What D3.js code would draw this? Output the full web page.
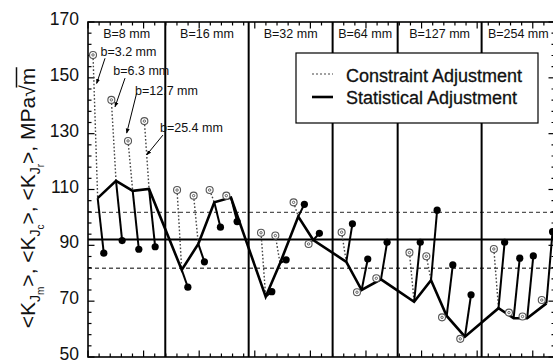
<!DOCTYPE html>
<html><head><meta charset="utf-8">
<script src="https://cdn.jsdelivr.net/npm/d3@7"></script>
<style>
html,body{margin:0;padding:0;background:#fff;}
svg{display:block;font-family:"Liberation Sans",Arial,Helvetica,sans-serif;}
</style></head><body>
<svg id="chart" width="553" height="361"></svg>
<script>
// Specimen thickness panels and their edges on the position axis
const panelLabels = ["B=8 mm", "B=16 mm", "B=32 mm", "B=64 mm", "B=127 mm", "B=254 mm"];
const panelEdges = [0, 6.95, 14.45, 22.0, 27.85, 35.4, 42];

// Ligament sizes called out in the first panel
const ligamentLabels = ["b=3.2 mm", "b=6.3 mm", "b=12.7 mm", "b=25.4 mm"];
const ligamentLabelPos = [[1.12, 157.8], [2.28, 151.0], [4.23, 143.9], [6.47, 130.7]];
const ligamentArrows = [
  [[1.53, 157.0], [0.78, 148.0]],
  [[3.33, 149.9], [2.43, 139.6]],
  [[4.38, 144.6], [3.48, 130.2]],
  [[6.74, 129.5], [5.28, 122.4]]
];

// Position of each (B, b) group along the axis
const groupX = [0.87, 2.52, 4.02, 5.49,
                8.43, 9.92, 11.36, 12.86,
                15.98, 17.27, 18.91, 20.26,
                23.23, 24.61, 26.35,
                29.33, 30.85, 32.26, 33.9,
                36.92, 38.28, 39.5, 41.23];

// <K_Jm>: measured mean toughness, MPa√m
const kJm = [106.9, 113.1, 109.5, 110.2,
             81.2, 90.5, 105.4, 107.1,
             71.6, 83.6, 100.3, 91.9,
             84.1, 74.0, 77.8,
             69.8, 77.5, 64.7, 57.3,
             67.5, 63.9, 63.9, 69.2];

// <K_Jc>: constraint adjustment
const kJc = [158.2, 142.1, 127.4, 134.5,
             109.8, 107.8, 109.8, 107.8,
             94.5, 93.5, 105.4, 90.5,
             94.7, 73.2, 78.2,
             87.4, 86.1, 64.2, 56.5,
             88.7, 65.9, 64.5, 70.4];

// <K_Jr>: statistical adjustment
const kJr = [87.2, 91.7, 88.6, 89.5,
             75.0, 84.1, 96.5, 98.5,
             73.4, 84.8, 104.7, 94.3,
             97.7, 85.1, 91.1,
             91.1, 102.6, 83.0, 72.3,
             91.1, 85.4, 86.2, 94.9];

// Overall mean and scatter band
const meanLevel = 92.1;
const bandLevels = [101.8, 81.8];

const yTickLabels = [50, 70, 90, 110, 130, 150, 170];
const legendItems = ["Constraint Adjustment", "Statistical Adjustment"];

// small horizontal shift that separates the three markers of a group
const offC = -0.42, offR = 0.55;

const svg = d3.select("#chart");
const x = d3.scaleLinear().domain([0, 42]).range([88, 555]);
const y = d3.scaleLinear().domain([50, 170]).range([357, 22]);
const [x0, x1] = x.range();
const [yb, yt] = y.range();

// scatter band and mean
bandLevels.forEach(v => {
  svg.append("line").attr("x1", x0).attr("x2", x1).attr("y1", y(v)).attr("y2", y(v))
    .attr("stroke", "#555").attr("stroke-width", 1.3).attr("stroke-dasharray", "4,3");
});
svg.append("line").attr("x1", x0).attr("x2", x1).attr("y1", y(meanLevel)).attr("y2", y(meanLevel))
  .attr("stroke", "#000").attr("stroke-width", 2);

// panel dividers
svg.selectAll("line.divider").data(panelEdges.slice(1, -1)).join("line")
  .attr("class", "divider")
  .attr("x1", d => x(d)).attr("x2", d => x(d)).attr("y1", yt).attr("y2", yb)
  .attr("stroke", "#000").attr("stroke-width", 2);

// frame ticks (inward) on all four sides
const xt = d3.range(0, 43);
const yTicksAll = d3.range(50, 171, 4);
const tickG = svg.append("g").attr("stroke", "#000").attr("stroke-width", 1.2);
xt.forEach(t => {
  const len = t % 5 === 0 ? 6.5 : 3.5;
  tickG.append("line").attr("x1", x(t)).attr("x2", x(t)).attr("y1", yt).attr("y2", yt + len);
  tickG.append("line").attr("x1", x(t)).attr("x2", x(t)).attr("y1", yb).attr("y2", yb - len);
});
yTicksAll.forEach(t => {
  const len = (t - 50) % 20 === 0 ? 6.5 : 3.5;
  tickG.append("line").attr("x1", x0).attr("x2", x0 + len).attr("y1", y(t)).attr("y2", y(t));
  tickG.append("line").attr("x1", x1).attr("x2", x1 - len).attr("y1", y(t)).attr("y2", y(t));
});

// frame
svg.append("rect").attr("x", x0).attr("y", yt).attr("width", x1 - x0).attr("height", yb - yt)
  .attr("fill", "none").attr("stroke", "#000").attr("stroke-width", 1.6);

// y tick labels
svg.selectAll("text.ytl").data(yTickLabels).join("text")
  .attr("class", "ytl")
  .attr("x", 79).attr("y", d => y(d) + 3)
  .attr("text-anchor", "end").attr("font-size", 17.5).attr("fill", "#111")
  .text(d => d);

// panel titles
svg.selectAll("text.panel").data(panelLabels).join("text")
  .attr("class", "panel")
  .attr("x", (d, i) => (x(panelEdges[i]) + x(panelEdges[i + 1])) / 2)
  .attr("y", 37.5)
  .attr("text-anchor", "middle").attr("font-size", 12.5).attr("fill", "#111")
  .text(d => d);

const idx = d3.range(groupX.length);

// dotted links from constraint-adjusted value to measured mean
svg.selectAll("line.cLink").data(idx).join("line")
  .attr("class", "cLink")
  .attr("x1", i => x(groupX[i] + offC)).attr("y1", i => y(kJc[i]))
  .attr("x2", i => x(groupX[i])).attr("y2", i => y(kJm[i]))
  .attr("stroke", "#444").attr("stroke-width", 1.4).attr("stroke-dasharray", "1.6,2");

// solid links from measured mean to statistically adjusted value
svg.selectAll("line.rLink").data(idx).join("line")
  .attr("class", "rLink")
  .attr("x1", i => x(groupX[i])).attr("y1", i => y(kJm[i]))
  .attr("x2", i => x(groupX[i] + offR)).attr("y2", i => y(kJr[i]))
  .attr("stroke", "#000").attr("stroke-width", 2);

// measured mean trace
svg.append("path")
  .attr("d", d3.line().x(i => x(groupX[i])).y(i => y(kJm[i]))(idx))
  .attr("fill", "none").attr("stroke", "#000").attr("stroke-width", 2.6)
  .attr("stroke-linejoin", "miter");

// constraint-adjusted markers
const cG = svg.selectAll("g.cMark").data(idx).join("g")
  .attr("class", "cMark")
  .attr("transform", i => `translate(${x(groupX[i] + offC)},${y(kJc[i])})`);
cG.append("circle").attr("r", 3.5).attr("fill", "#fff").attr("stroke", "#555").attr("stroke-width", 1.1);
cG.append("circle").attr("r", 1.2).attr("fill", "none").attr("stroke", "#555").attr("stroke-width", 0.9);

// statistically adjusted markers
svg.selectAll("circle.rMark").data(idx).join("circle")
  .attr("class", "rMark")
  .attr("cx", i => x(groupX[i] + offR)).attr("cy", i => y(kJr[i]))
  .attr("r", 3.6).attr("fill", "#000");

// ligament callouts
const defs = svg.append("defs");
defs.append("marker").attr("id", "arr").attr("viewBox", "0 0 10 10")
  .attr("refX", 9).attr("refY", 5).attr("markerWidth", 5).attr("markerHeight", 5)
  .attr("orient", "auto").append("path").attr("d", "M0,1 L10,5 L0,9 Z").attr("fill", "#000");
ligamentArrows.forEach(a => {
  svg.append("line").attr("x1", x(a[0][0])).attr("y1", y(a[0][1]))
    .attr("x2", x(a[1][0])).attr("y2", y(a[1][1]))
    .attr("stroke", "#000").attr("stroke-width", 1).attr("marker-end", "url(#arr)");
});
svg.selectAll("text.lig").data(ligamentLabels).join("text")
  .attr("class", "lig")
  .attr("x", (d, i) => x(ligamentLabelPos[i][0])).attr("y", (d, i) => y(ligamentLabelPos[i][1]))
  .attr("font-size", 12.5).attr("fill", "#111")
  .text(d => d);

// legend
const lg = svg.append("g");
lg.append("rect").attr("x", 296).attr("y", 53).attr("width", 242).attr("height", 70)
  .attr("fill", "#fff").attr("stroke", "#000").attr("stroke-width", 1.2);
lg.append("line").attr("x1", 312).attr("x2", 333).attr("y1", 74).attr("y2", 74)
  .attr("stroke", "#444").attr("stroke-width", 1.2).attr("stroke-dasharray", "2,2");
lg.append("line").attr("x1", 312).attr("x2", 333).attr("y1", 97).attr("y2", 97)
  .attr("stroke", "#000").attr("stroke-width", 2.6);
lg.selectAll("text").data(legendItems).join("text")
  .attr("x", 346).attr("y", (d, i) => 82 + i * 22)
  .attr("font-size", 18).attr("fill", "#111").attr("stroke", "#111").attr("stroke-width", 0.3)
  .text(d => d);

// y axis title: <K_Jm>, <K_Jc>, <K_Jr>, MPa√m
const titleG = svg.append("g").attr("transform", "translate(35,198) rotate(-90)");
const yTitle = titleG.append("text")
  .attr("text-anchor", "middle").attr("font-size", 21).attr("fill", "#111");
const parts = [
  ["<K", 0, 21], ["J", 5, 14], ["m", 4, 10], [">, <K", -9, 21],
  ["J", 5, 14], ["c", 4, 10], [">, <K", -9, 21],
  ["J", 5, 14], ["r", 4, 10], [">, MPa\u221Am", -9, 21]
];
parts.forEach(p => {
  yTitle.append("tspan").attr("dy", p[1]).attr("font-size", p[2]).text(p[0]);
});
// radical bar over the final "m"
const nChars = yTitle.node().getNumberOfChars();
const rad = yTitle.node().getExtentOfChar(nChars - 2);
const lastM = yTitle.node().getExtentOfChar(nChars - 1);
titleG.append("line")
  .attr("x1", rad.x + rad.width * 0.8).attr("x2", lastM.x + lastM.width + 0.5)
  .attr("y1", -18.5).attr("y2", -18.5)
  .attr("stroke", "#111").attr("stroke-width", 1.5);
</script>
</body></html>
